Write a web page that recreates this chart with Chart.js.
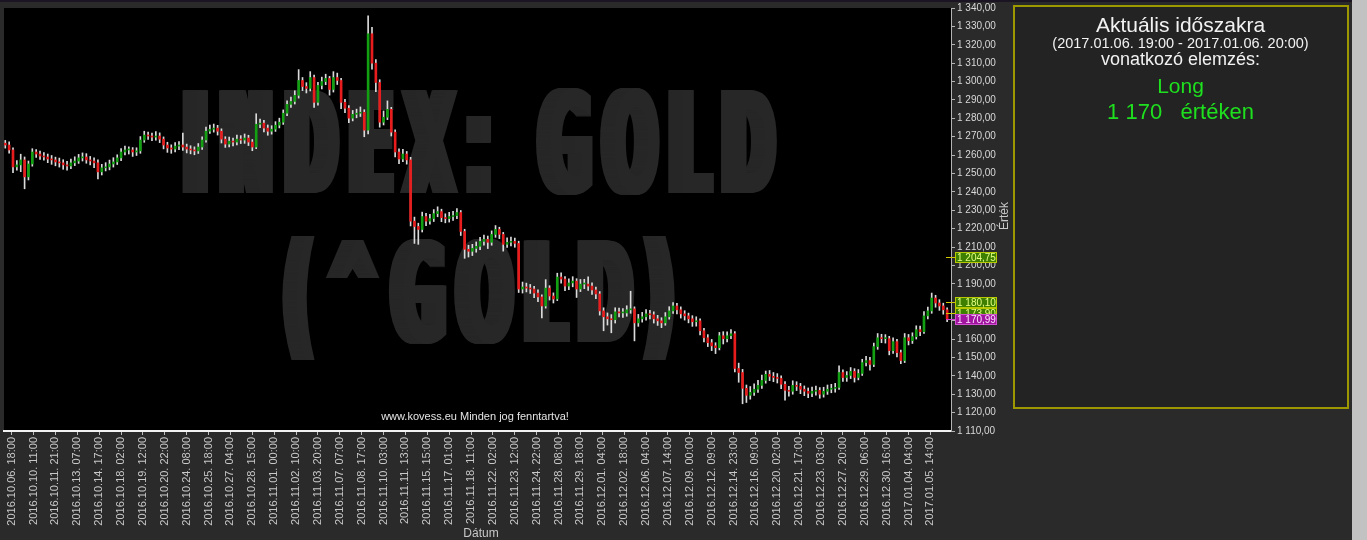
<!DOCTYPE html>
<html>
<head>
<meta charset="utf-8">
<script src="https://cdn.jsdelivr.net/npm/chart.js"></script>
<style>
  html, body { margin: 0; padding: 0; background: #2a2a2a; overflow: hidden; }
  #wrap { position: absolute; left: 0; top: 0; width: 1367px; height: 540px; }
</style>
</head>
<body>
<div id="wrap"><canvas id="myChart"></canvas></div>
<script>
// Date labels under the x axis, one every 34 hourly candles
var tickLabels = [
  '2016.10.06. 18:00', '2016.10.10. 11:00', '2016.10.11. 21:00', '2016.10.13. 07:00',
  '2016.10.14. 17:00', '2016.10.18. 02:00', '2016.10.19. 12:00', '2016.10.20. 22:00',
  '2016.10.24. 08:00', '2016.10.25. 18:00', '2016.10.27. 04:00', '2016.10.28. 15:00',
  '2016.11.01. 00:00', '2016.11.02. 10:00', '2016.11.03. 20:00', '2016.11.07. 07:00',
  '2016.11.08. 17:00', '2016.11.10. 03:00', '2016.11.11. 13:00', '2016.11.15. 15:00',
  '2016.11.17. 01:00', '2016.11.18. 11:00', '2016.11.22. 02:00', '2016.11.23. 12:00',
  '2016.11.24. 22:00', '2016.11.28. 08:00', '2016.11.29. 18:00', '2016.12.01. 04:00',
  '2016.12.02. 18:00', '2016.12.06. 04:00', '2016.12.07. 14:00', '2016.12.09. 00:00',
  '2016.12.12. 09:00', '2016.12.14. 23:00', '2016.12.16. 09:00', '2016.12.20. 02:00',
  '2016.12.21. 17:00', '2016.12.23. 03:00', '2016.12.27. 20:00', '2016.12.29. 06:00',
  '2016.12.30. 16:00', '2017.01.04. 04:00', '2017.01.05. 14:00'
];
var hoursPerLabel = 34;

// candles (6 trading hours each), first one 10 hours before the first label
var firstHour = -10;
var hourStep = 6;

var opens = [
  1266.5, 1265.5, 1262.8, 1253.6, 1254.7, 1257.4, 1248.2, 1255.2, 1261.7, 1260.6,
  1259.5, 1259.0, 1257.9, 1257.4, 1256.3, 1255.8, 1254.7, 1254.1, 1255.8, 1256.8,
  1258.5, 1259.0, 1257.4, 1256.8, 1255.8, 1250.9, 1253.1, 1253.6, 1255.2, 1256.3,
  1258.5, 1261.7, 1262.8, 1262.8, 1261.7, 1262.3, 1268.2, 1270.9, 1270.4, 1269.8,
  1270.4, 1268.7, 1265.5, 1263.9, 1263.3, 1264.9, 1265.5, 1264.4, 1263.3, 1262.8,
  1262.3, 1264.4, 1268.2, 1273.0, 1274.1, 1274.7, 1273.0, 1268.7, 1266.0, 1267.6,
  1267.1, 1268.7, 1268.2, 1269.3, 1267.1, 1264.4, 1276.8, 1277.4, 1274.7, 1273.0,
  1274.1, 1276.3, 1277.9, 1282.8, 1287.6, 1289.2, 1292.5, 1300.6, 1297.3, 1296.3,
  1302.2, 1288.7, 1297.9, 1300.0, 1301.7, 1295.7, 1302.2, 1300.6, 1288.7, 1285.5,
  1280.1, 1282.2, 1282.8, 1283.3, 1273.6, 1326.0, 1310.0, 1299.5, 1277.9, 1280.6,
  1284.9, 1272.5, 1261.7, 1257.9, 1260.6, 1257.4, 1224.1, 1221.2, 1219.6, 1226.6,
  1224.1, 1225.5, 1228.2, 1229.3, 1226.0, 1225.5, 1226.6, 1227.1, 1228.8, 1218.5,
  1208.8, 1207.7, 1209.3, 1210.4, 1213.1, 1214.2, 1212.6, 1216.9, 1219.6, 1216.9,
  1211.5, 1212.6, 1213.1, 1212.0, 1187.2, 1188.3, 1187.7, 1187.2, 1185.0, 1182.9,
  1178.0, 1187.7, 1183.4, 1181.8, 1193.7, 1192.6, 1188.8, 1190.5, 1191.5, 1187.2,
  1189.9, 1189.9, 1188.8, 1186.7, 1184.5, 1175.3, 1172.1, 1171.0, 1170.5, 1174.8,
  1174.2, 1174.2, 1175.9, 1176.4, 1168.8, 1171.0, 1172.1, 1173.7, 1173.2, 1171.0,
  1169.9, 1168.8, 1172.1, 1175.3, 1178.0, 1175.9, 1173.7, 1172.6, 1171.0, 1169.4,
  1169.9, 1164.5, 1160.7, 1158.0, 1156.3, 1155.3, 1161.8, 1160.2, 1161.8, 1162.9,
  1144.0, 1141.8, 1133.2, 1129.4, 1131.0, 1132.7, 1134.8, 1137.5, 1140.8, 1139.7,
  1139.1, 1138.6, 1135.4, 1132.1, 1131.6, 1134.8, 1134.3, 1132.7, 1131.6, 1130.5,
  1131.6, 1132.1, 1130.0, 1131.6, 1132.7, 1133.2, 1133.7, 1141.8, 1139.1, 1140.2,
  1142.4, 1139.1, 1141.3, 1147.2, 1148.3, 1146.2, 1155.9, 1160.7, 1160.2, 1160.2,
  1153.7, 1158.6, 1152.6, 1148.3, 1160.7, 1159.1, 1161.3, 1165.1, 1164.0, 1172.6,
  1175.3, 1182.3, 1179.6, 1178.0, 1175.9
];
var highs = [
  1268.0, 1267.2, 1264.0, 1257.0, 1260.5, 1259.0, 1256.8, 1263.5, 1263.0, 1262.2,
  1261.4, 1260.6, 1259.8, 1258.9, 1258.4, 1257.5, 1256.6, 1257.9, 1259.1, 1260.4,
  1261.2, 1260.8, 1259.3, 1258.6, 1257.4, 1255.0, 1255.9, 1257.3, 1258.6, 1260.2,
  1263.6, 1264.9, 1264.5, 1264.1, 1264.0, 1270.1, 1273.0, 1272.6, 1272.0, 1272.8,
  1272.1, 1269.9, 1267.0, 1265.6, 1266.8, 1267.4, 1272.0, 1266.0, 1265.1, 1264.5,
  1266.3, 1270.0, 1275.2, 1276.3, 1276.9, 1276.2, 1274.3, 1270.0, 1269.8, 1269.3,
  1270.9, 1270.6, 1271.5, 1270.8, 1268.5, 1282.5, 1279.6, 1278.9, 1276.4, 1276.0,
  1278.2, 1280.1, 1284.6, 1289.5, 1291.6, 1295.0, 1306.5, 1302.2, 1299.4, 1305.4,
  1303.5, 1299.6, 1302.4, 1304.0, 1302.8, 1305.4, 1304.6, 1301.8, 1290.3, 1287.0,
  1284.3, 1285.0, 1286.2, 1284.7, 1335.7, 1329.5, 1312.0, 1301.0, 1284.0, 1289.5,
  1286.0, 1273.8, 1263.4, 1263.2, 1262.0, 1258.8, 1226.3, 1223.0, 1229.0, 1228.3,
  1227.8, 1230.4, 1231.9, 1230.6, 1228.1, 1228.9, 1229.4, 1231.0, 1229.9, 1219.7,
  1211.0, 1211.5, 1212.8, 1215.3, 1216.5, 1216.0, 1218.8, 1221.7, 1220.8, 1218.0,
  1215.0, 1215.4, 1214.9, 1213.2, 1191.0, 1190.4, 1189.7, 1188.6, 1186.7, 1184.1,
  1192.3, 1189.0, 1185.1, 1195.8, 1196.0, 1194.0, 1192.7, 1193.9, 1192.8, 1192.4,
  1192.5, 1193.8, 1190.6, 1188.3, 1185.8, 1177.0, 1174.2, 1173.3, 1177.0, 1176.9,
  1176.6, 1178.1, 1186.0, 1177.5, 1173.4, 1174.5, 1176.0, 1175.6, 1174.8, 1172.9,
  1171.6, 1174.4, 1177.6, 1179.8, 1179.4, 1177.5, 1175.4, 1174.1, 1172.7, 1172.1,
  1171.0, 1165.8, 1162.4, 1159.8, 1158.0, 1163.6, 1164.0, 1163.9, 1165.1, 1164.0,
  1146.9, 1143.5, 1135.0, 1134.2, 1135.6, 1137.5, 1140.4, 1142.6, 1142.9, 1141.8,
  1141.2, 1140.0, 1136.9, 1134.3, 1137.3, 1136.8, 1135.9, 1134.5, 1133.4, 1133.9,
  1134.4, 1133.6, 1133.8, 1135.0, 1135.4, 1135.9, 1145.5, 1143.2, 1142.3, 1144.5,
  1143.9, 1143.4, 1149.0, 1150.6, 1150.0, 1157.8, 1163.0, 1162.6, 1162.4, 1161.5,
  1160.7, 1159.9, 1154.0, 1163.0, 1162.5, 1163.4, 1167.2, 1167.0, 1175.0, 1177.4,
  1185.0, 1183.8, 1181.4, 1179.5, 1177.0
];
var lows = [
  1263.8, 1261.0, 1250.5, 1251.8, 1251.0, 1241.7, 1246.5, 1254.0, 1258.8, 1257.6,
  1257.2, 1255.9, 1255.0, 1254.2, 1253.5, 1252.3, 1251.8, 1252.6, 1254.3, 1255.5,
  1256.8, 1255.6, 1254.7, 1253.2, 1247.1, 1249.2, 1251.4, 1252.0, 1253.5, 1254.9,
  1257.0, 1260.1, 1260.6, 1259.3, 1259.8, 1261.0, 1267.0, 1268.5, 1267.9, 1268.1,
  1266.8, 1263.4, 1261.5, 1261.0, 1261.7, 1263.0, 1262.6, 1261.2, 1260.7, 1260.2,
  1260.9, 1263.1, 1267.0, 1271.8, 1272.5, 1270.9, 1266.6, 1264.2, 1264.5, 1265.0,
  1265.6, 1266.3, 1266.4, 1265.2, 1262.4, 1263.5, 1274.9, 1272.6, 1270.8, 1271.4,
  1272.9, 1274.8, 1276.7, 1281.4, 1285.9, 1287.8, 1291.0, 1295.1, 1293.8, 1294.9,
  1286.0, 1287.2, 1296.0, 1298.3, 1292.6, 1294.3, 1298.4, 1285.2, 1283.1, 1277.6,
  1278.6, 1280.3, 1281.0, 1270.0, 1271.6, 1306.8, 1294.5, 1275.2, 1276.4, 1279.3,
  1270.4, 1259.0, 1255.3, 1256.4, 1255.1, 1221.5, 1212.0, 1211.5, 1218.2, 1221.6,
  1222.4, 1223.9, 1226.5, 1223.8, 1223.2, 1223.6, 1224.5, 1225.4, 1216.3, 1203.9,
  1204.6, 1205.4, 1207.2, 1208.6, 1211.0, 1209.2, 1211.0, 1215.3, 1214.6, 1207.8,
  1209.8, 1210.7, 1209.9, 1185.3, 1185.0, 1185.6, 1184.8, 1182.5, 1180.3, 1171.5,
  1176.8, 1181.2, 1179.6, 1180.9, 1190.4, 1186.3, 1186.9, 1188.4, 1182.6, 1185.8,
  1187.4, 1186.5, 1184.2, 1181.9, 1173.0, 1164.5, 1167.6, 1163.4, 1168.7, 1172.0,
  1171.7, 1172.4, 1174.0, 1159.0, 1166.9, 1169.2, 1170.3, 1171.0, 1168.7, 1167.4,
  1166.2, 1167.5, 1170.8, 1173.9, 1173.6, 1171.4, 1170.3, 1168.8, 1166.9, 1167.0,
  1162.3, 1158.4, 1155.9, 1153.7, 1152.1, 1154.1, 1157.3, 1158.5, 1160.2, 1142.1,
  1136.5, 1124.8, 1125.5, 1127.3, 1129.4, 1131.0, 1133.2, 1136.0, 1137.4, 1136.8,
  1136.1, 1133.0, 1126.7, 1129.0, 1130.0, 1132.0, 1130.3, 1129.2, 1128.1, 1128.6,
  1129.5, 1127.8, 1128.4, 1129.9, 1130.8, 1131.1, 1132.6, 1136.9, 1137.0, 1138.5,
  1136.6, 1137.8, 1140.2, 1145.4, 1143.1, 1145.0, 1154.4, 1158.0, 1157.8, 1151.4,
  1152.2, 1150.3, 1146.6, 1147.2, 1156.8, 1157.6, 1160.0, 1161.9, 1163.1, 1170.9,
  1174.0, 1177.3, 1175.6, 1173.5, 1169.4
];
var closes = [
  1265.5, 1262.8, 1253.6, 1254.7, 1257.4, 1248.2, 1255.2, 1261.7, 1260.6, 1259.5,
  1259.0, 1257.9, 1257.4, 1256.3, 1255.8, 1254.7, 1254.1, 1255.8, 1256.8, 1258.5,
  1259.0, 1257.4, 1256.8, 1255.8, 1250.9, 1253.1, 1253.6, 1255.2, 1256.3, 1258.5,
  1261.7, 1262.8, 1262.8, 1261.7, 1262.3, 1268.2, 1270.9, 1270.4, 1269.8, 1270.4,
  1268.7, 1265.5, 1263.9, 1263.3, 1264.9, 1265.5, 1264.4, 1263.3, 1262.8, 1262.3,
  1264.4, 1268.2, 1273.0, 1274.1, 1274.7, 1273.0, 1268.7, 1266.0, 1267.6, 1267.1,
  1268.7, 1268.2, 1269.3, 1267.1, 1264.4, 1276.8, 1277.4, 1274.7, 1273.0, 1274.1,
  1276.3, 1277.9, 1282.8, 1287.6, 1289.2, 1292.5, 1300.6, 1297.3, 1296.3, 1302.2,
  1288.7, 1297.9, 1300.0, 1301.7, 1295.7, 1302.2, 1300.6, 1288.7, 1285.5, 1280.1,
  1282.2, 1282.8, 1283.3, 1273.6, 1326.0, 1310.0, 1299.5, 1277.9, 1280.6, 1284.9,
  1272.5, 1261.7, 1257.9, 1260.6, 1257.4, 1224.1, 1221.2, 1219.6, 1226.6, 1224.1,
  1225.5, 1228.2, 1229.3, 1226.0, 1225.5, 1226.6, 1227.1, 1228.8, 1218.5, 1208.8,
  1207.7, 1209.3, 1210.4, 1213.1, 1214.2, 1212.6, 1216.9, 1219.6, 1216.9, 1211.5,
  1212.6, 1213.1, 1212.0, 1187.2, 1188.3, 1187.7, 1187.2, 1185.0, 1182.9, 1178.0,
  1187.7, 1183.4, 1181.8, 1193.7, 1192.6, 1188.8, 1190.5, 1191.5, 1187.2, 1189.9,
  1189.9, 1188.8, 1186.7, 1184.5, 1175.3, 1172.1, 1171.0, 1170.5, 1174.8, 1174.2,
  1174.2, 1175.9, 1176.4, 1168.8, 1171.0, 1172.1, 1173.7, 1173.2, 1171.0, 1169.9,
  1168.8, 1172.1, 1175.3, 1178.0, 1175.9, 1173.7, 1172.6, 1171.0, 1169.4, 1169.9,
  1164.5, 1160.7, 1158.0, 1156.3, 1155.3, 1161.8, 1160.2, 1161.8, 1162.9, 1144.0,
  1141.8, 1133.2, 1129.4, 1131.0, 1132.7, 1134.8, 1137.5, 1140.8, 1139.7, 1139.1,
  1138.6, 1135.4, 1132.1, 1131.6, 1134.8, 1134.3, 1132.7, 1131.6, 1130.5, 1131.6,
  1132.1, 1130.0, 1131.6, 1132.7, 1133.2, 1133.7, 1141.8, 1139.1, 1140.2, 1142.4,
  1139.1, 1141.3, 1147.2, 1148.3, 1146.2, 1155.9, 1160.7, 1160.2, 1160.2, 1153.7,
  1158.6, 1152.6, 1148.3, 1160.7, 1159.1, 1161.3, 1165.1, 1164.0, 1172.6, 1175.3,
  1182.3, 1179.6, 1178.0, 1175.9, 1171.0
];

// price markers on the value axis
var priceTags = [1204.75, 1180.10, 1173.90, 1170.99];

// watermark and side panel texts
var watermark = ['INDEX: GOLD', '(^GOLD)'];
var panelTitle = 'Aktuális időszakra';
var panelPeriod = '(2017.01.06. 19:00 - 2017.01.06. 20:00)';
var panelSub = 'vonatkozó elemzés:';
var panelSignal = 'Long';
var panelLevel = '1 170   értéken';
var copyright = 'www.kovess.eu Minden jog fenntartva!';

var FONT = '"Liberation Sans", Arial, sans-serif';

function huNum(v) {
  var parts = v.toFixed(2).split('.');
  return parts[0].replace(/\B(?=(\d{3})+(?!\d))/g, ' ') + ',' + parts[1];
}

var hours = closes.map(function (_, j) { return firstHour + j * hourStep; });

var wickData = hours.map(function (h, j) { return { x: h, y: [lows[j], highs[j]] }; });
var bodyData = hours.map(function (h, j) { return { x: h, y: [opens[j], closes[j]] }; });

// heavy condensed watermark: each glyph squeezed, then smeared sideways
function drawWatermarkLine(ctx, text, left, right, baseline, capH) {
  var size = capH / 0.73;
  var thick = 14;
  ctx.font = 'bold ' + size + 'px "DejaVu Sans Condensed", "DejaVu Sans", sans-serif';
  ctx.textBaseline = 'alphabetic';
  ctx.textAlign = 'left';
  var chars = text.split('');
  var widths = chars.map(function (ch) { return ctx.measureText(ch).width; });
  var total = widths.reduce(function (s, w) { return s + w; }, 0);
  var sx = (right - left - chars.length * thick) / total;
  var x = left;
  chars.forEach(function (ch, i) {
    ctx.save();
    ctx.translate(x, baseline);
    ctx.scale(sx, 1);
    if (ch !== ' ') {
      for (var d = 0; d <= thick; d++) ctx.fillText(ch, d / sx, 0);
    }
    ctx.restore();
    x += widths[i] * sx + thick;
  });
}

var backdrop = {
  id: 'backdrop',
  beforeDraw: function (chart) {
    var ctx = chart.ctx, a = chart.chartArea;
    ctx.save();
    ctx.fillStyle = '#2a2a2a';
    ctx.fillRect(0, 0, chart.width, chart.height);
    ctx.fillStyle = '#1b1423';
    ctx.fillRect(0, 0, chart.width, 2);
    ctx.fillStyle = '#c2c2c2';
    ctx.fillRect(1352, 0, chart.width - 1352, chart.height);
    ctx.fillStyle = '#000000';
    ctx.fillRect(a.left, a.top, a.right - a.left, a.bottom - a.top);
    ctx.fillStyle = '#272727';
    drawWatermarkLine(ctx, watermark[0], 177, 780, 193, 103);
    drawWatermarkLine(ctx, watermark[1], 277, 680, 342, 102);
    ctx.restore();
  },
  afterDatasetsDraw: function (chart) {
    var ctx = chart.ctx;
    ctx.save();
    ctx.fillStyle = '#e4e4e4';
    ctx.font = '11px ' + FONT;
    ctx.textAlign = 'center';
    ctx.textBaseline = 'middle';
    ctx.fillText(copyright, 475, 417);
    ctx.restore();
  },
  afterDraw: function (chart) {
    var ctx = chart.ctx, ys = chart.scales.y;
    ctx.save();

    // price markers
    priceTags.forEach(function (v, i) {
      var y = Math.round(ys.getPixelForValue(v)) + 0.5;
      var last = i === priceTags.length - 1;
      ctx.strokeStyle = last ? '#d040d0' : '#d0c800';
      ctx.lineWidth = 1;
      ctx.beginPath(); ctx.moveTo(946, y); ctx.lineTo(955, y); ctx.stroke();
      ctx.fillStyle = last ? '#a014a0' : '#3f7f00';
      ctx.fillRect(955, y - 5.5, 42, 11);
      ctx.strokeStyle = last ? '#d050d0' : '#b8c800';
      ctx.strokeRect(955.5, y - 5, 41, 10);
      ctx.fillStyle = last ? '#ffe0ff' : '#e6ff80';
      ctx.font = '10px ' + FONT;
      ctx.textAlign = 'left';
      ctx.textBaseline = 'middle';
      ctx.fillText(huNum(v), 957, y + 0.5);
    });

    // axis titles
    ctx.fillStyle = '#c8c8c8';
    ctx.font = '12px ' + FONT;
    ctx.textAlign = 'center';
    ctx.textBaseline = 'middle';
    ctx.fillText('Dátum', 481, 534);
    ctx.save();
    ctx.translate(1005, 216);
    ctx.rotate(-Math.PI / 2);
    ctx.fillText('Érték', 0, 0);
    ctx.restore();

    // analysis panel
    ctx.fillStyle = '#232323';
    ctx.fillRect(1013, 5, 336, 404);
    ctx.strokeStyle = '#9d9800';
    ctx.lineWidth = 2;
    ctx.strokeRect(1014, 6, 334, 402);
    var cx = 1180.5;
    ctx.textAlign = 'center';
    ctx.textBaseline = 'middle';
    ctx.fillStyle = '#f2f2f2';
    ctx.font = '21px ' + FONT;
    ctx.fillText(panelTitle, cx, 26);
    ctx.font = '14.5px ' + FONT;
    ctx.fillText(panelPeriod, cx, 44);
    ctx.font = '18px ' + FONT;
    ctx.fillText(panelSub, cx, 60);
    ctx.fillStyle = '#1ee01e';
    ctx.font = '21px ' + FONT;
    ctx.fillText(panelSignal, cx, 87);
    ctx.font = '22px ' + FONT;
    ctx.fillText(panelLevel, cx, 113);
    ctx.restore();
  }
};

var ctx = document.getElementById('myChart').getContext('2d');
var myChart = new Chart(ctx, {
  type: 'bar',
  data: {
    datasets: [{
      label: 'body',
      data: bodyData,
      backgroundColor: function (c) {
        var j = c.dataIndex;
        return closes[j] >= opens[j] ? '#12a012' : '#e81c1c';
      },
      barThickness: 2,
      minBarLength: 1,
      grouped: false,
      borderWidth: 0,
      order: 1
    }, {
      label: 'wick',
      data: wickData,
      backgroundColor: '#dadada',
      barThickness: 1,
      grouped: false,
      borderWidth: 0,
      order: 2
    }]
  },
  options: {
    responsive: true,
    maintainAspectRatio: false,
    devicePixelRatio: 1,
    animation: false,
    layout: { padding: { left: 4, top: 6, right: 355, bottom: 0 } },
    plugins: { legend: { display: false }, tooltip: { enabled: false } },
    scales: {
      x: {
        type: 'linear',
        offset: false,
        min: -12,
        max: 1460,
        afterBuildTicks: function (s) {
          s.ticks = tickLabels.map(function (_, k) { return { value: k * hoursPerLabel }; });
        },
        afterFit: function (s) { s.height = 109; },
        ticks: {
          autoSkip: false,
          minRotation: 90,
          maxRotation: 90,
          padding: 2,
          color: '#c8c8c8',
          font: { family: FONT, size: 11 },
          callback: function (v, i) { return tickLabels[i]; }
        },
        grid: { drawOnChartArea: false, drawTicks: true, tickLength: 4, color: '#bdbdbd', offset: false },
        border: { display: true, color: '#f2f2f2', width: 2 }
      },
      y: {
        type: 'linear',
        position: 'right',
        min: 1110,
        max: 1340,
        afterFit: function (s) { s.width = 61; },
        ticks: {
          stepSize: 10,
          autoSkip: false,
          padding: 2,
          color: '#d8d8d8',
          font: { family: FONT, size: 10 },
          callback: function (v) { return huNum(v); }
        },
        grid: { drawOnChartArea: false, drawTicks: true, tickLength: 4, color: '#b4b4b4' },
        border: { display: true, color: '#b4b4b4' }
      }
    }
  },
  plugins: [backdrop]
});
</script>
</body>
</html>
